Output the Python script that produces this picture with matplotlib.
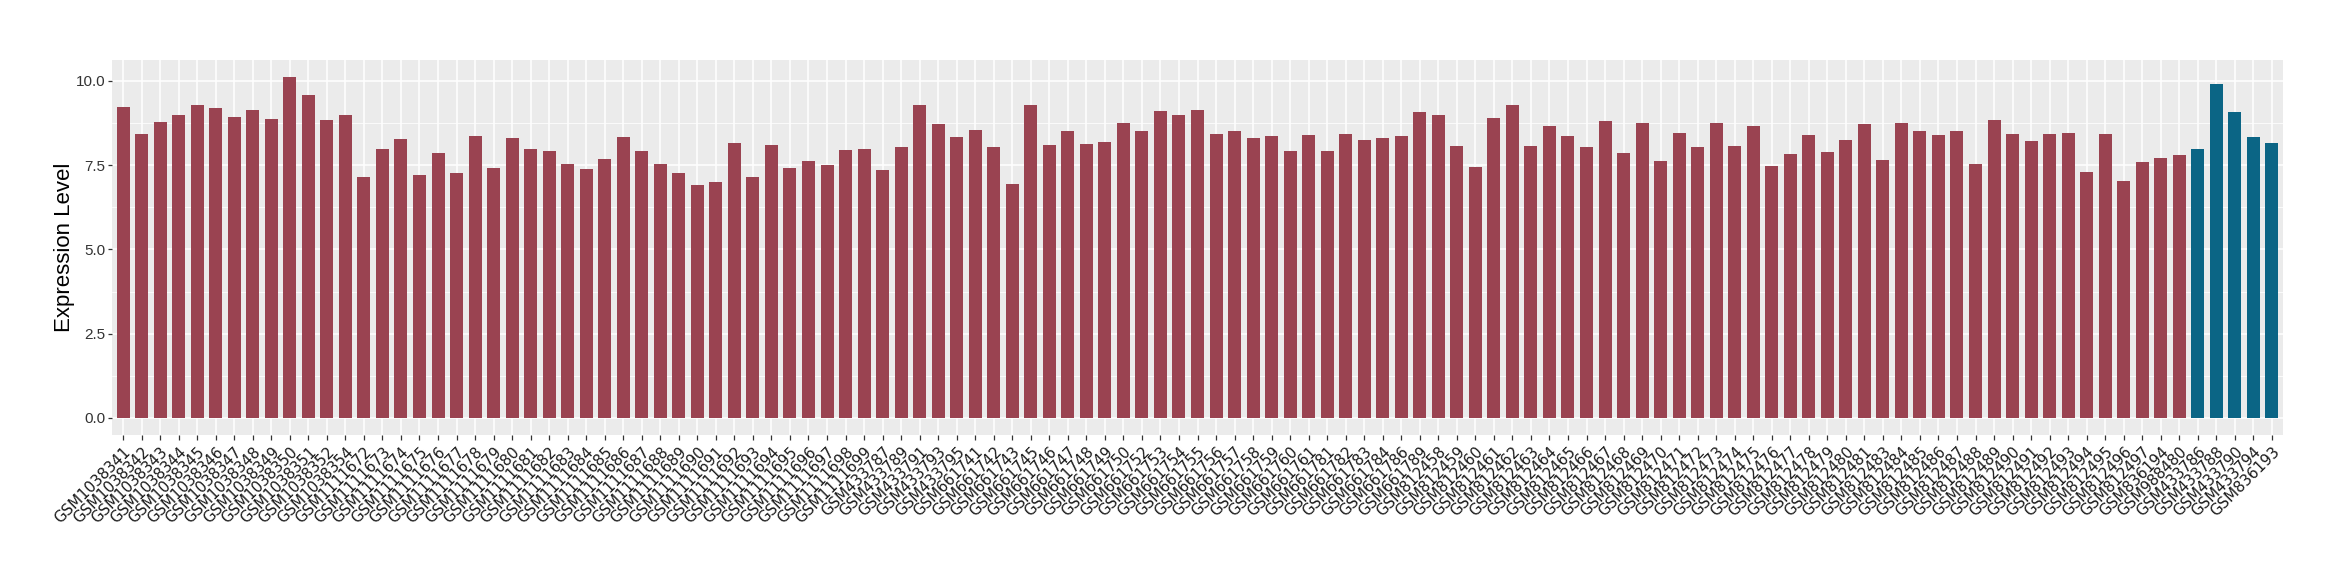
import matplotlib
matplotlib.use("Agg")
import matplotlib.pyplot as plt
from matplotlib.ticker import FixedLocator
import numpy as np

samples = [
    "GSM1038341", "GSM1038342", "GSM1038343", "GSM1038344", "GSM1038345", "GSM1038346",
    "GSM1038347", "GSM1038348", "GSM1038349", "GSM1038350", "GSM1038351", "GSM1038352",
    "GSM1038354",
    "GSM1111672", "GSM1111673", "GSM1111674", "GSM1111675", "GSM1111676", "GSM1111677",
    "GSM1111678", "GSM1111679", "GSM1111680", "GSM1111681", "GSM1111682", "GSM1111683",
    "GSM1111684", "GSM1111685", "GSM1111686", "GSM1111687", "GSM1111688", "GSM1111689",
    "GSM1111690", "GSM1111691", "GSM1111692", "GSM1111693", "GSM1111694", "GSM1111695",
    "GSM1111696", "GSM1111697", "GSM1111698", "GSM1111699",
    "GSM433787", "GSM433789", "GSM433791", "GSM433793", "GSM433795",
    "GSM661741", "GSM661742", "GSM661743", "GSM661745", "GSM661746", "GSM661747",
    "GSM661748", "GSM661749", "GSM661750", "GSM661752", "GSM661753", "GSM661754",
    "GSM661755", "GSM661756", "GSM661757", "GSM661758", "GSM661759", "GSM661760",
    "GSM661761", "GSM661781", "GSM661782", "GSM661783", "GSM661784", "GSM661786",
    "GSM661789",
    "GSM812458", "GSM812459", "GSM812460", "GSM812461", "GSM812462", "GSM812463",
    "GSM812464", "GSM812465", "GSM812466", "GSM812467", "GSM812468", "GSM812469",
    "GSM812470", "GSM812471", "GSM812472", "GSM812473", "GSM812474", "GSM812475",
    "GSM812476", "GSM812477", "GSM812478", "GSM812479", "GSM812480", "GSM812481",
    "GSM812483", "GSM812484", "GSM812485", "GSM812486", "GSM812487", "GSM812488",
    "GSM812489", "GSM812490", "GSM812491", "GSM812492", "GSM812493", "GSM812494",
    "GSM812495", "GSM812496", "GSM812497",
    "GSM836194", "GSM988480",
    "GSM433786", "GSM433788", "GSM433790", "GSM433794", "GSM836193",
]

expression = [
    9.24, 8.44, 8.79, 9.00, 9.30, 9.21, 8.94, 9.15, 8.88, 10.13, 9.59, 8.85, 9.00,
    7.16, 7.99, 8.29, 7.22, 7.85, 7.28, 8.38, 7.43, 8.32, 7.99, 7.93, 7.55, 7.40,
    7.67, 8.35, 7.93, 7.55, 7.28, 6.90, 6.99, 8.17, 7.16, 8.11, 7.43, 7.61, 7.52,
    7.96, 7.99,
    7.37, 8.05, 9.30, 8.71, 8.35,
    8.53, 8.05, 6.93, 9.30, 8.11, 8.50, 8.14, 8.20, 8.74, 8.50, 9.12, 9.00, 9.15,
    8.44, 8.50, 8.32, 8.38, 7.93, 8.41, 7.93, 8.44, 8.26, 8.32, 8.38, 9.09,
    9.00, 8.08, 7.46, 8.91, 9.30, 8.08, 8.65, 8.38, 8.05, 8.82, 7.85, 8.74, 7.61,
    8.47, 8.05, 8.74, 8.08, 8.65, 7.49, 7.82, 8.41, 7.88, 8.26, 8.71, 7.64, 8.76,
    8.50, 8.41, 8.50, 7.55, 8.85, 8.44, 8.23, 8.44, 8.47, 7.31, 8.44, 7.02, 7.58,
    7.70, 7.79,
    7.99, 9.92, 9.09, 8.35, 8.17,
]

group = ["other"] * 112 + ["target"] * 5

group_colors = {"other": "#9A4351", "target": "#0B6585"}
ytick_values = [0.0, 2.5, 5.0, 7.5, 10.0]
ytick_labels = ["0.0", "2.5", "5.0", "7.5", "10.0"]

W, H = 2340, 580
fig = plt.figure(figsize=(W / 100, H / 100), dpi=100)
left, right, top, bottom = 112, 2283, 59.5, 435
ax = fig.add_axes([left / W, 1 - bottom / H, (right - left) / W, (bottom - top) / H])

x = np.arange(len(samples))
ax.bar(x, expression, width=0.7, color=[group_colors[g] for g in group], zorder=3)

ymax = max(expression)
ax.set_xlim(-0.6, len(samples) - 1 + 0.6)
ax.set_ylim(-0.05 * ymax, ymax * 1.05)

ax.set_facecolor("#EBEBEB")
for s in ax.spines.values():
    s.set_visible(False)

ax.set_yticks(ytick_values)
ax.set_yticklabels(ytick_labels, family="Liberation Sans", fontsize=11, color="#333333")
minor = [(a + b) / 2 for a, b in zip(ytick_values[:-1], ytick_values[1:])]
ax.yaxis.set_minor_locator(FixedLocator(minor))
ax.tick_params(axis="y", which="minor", length=0)

ax.set_xticks(x)
ax.set_xticklabels(samples, rotation=45, ha="right", va="top", rotation_mode="anchor",
                   family="DejaVu Sans", fontsize=10.8, color="#1a1a1a")
ax.tick_params(axis="x", which="major", length=3.5, width=0.9, color="#333333", pad=3)
ax.tick_params(axis="y", which="major", length=3, width=0.9, color="#333333", pad=2)

ax.grid(True, which="major", color="white", linewidth=1.1, zorder=0)
ax.grid(True, which="minor", axis="y", color="white", linewidth=0.55, zorder=0)
ax.set_axisbelow(True)

ax.set_ylabel("Expression Level", family="Liberation Sans", fontsize=16, color="black", labelpad=0)
ax.set_xlabel("")

fig.savefig("out.png", dpi=100, facecolor="white")
